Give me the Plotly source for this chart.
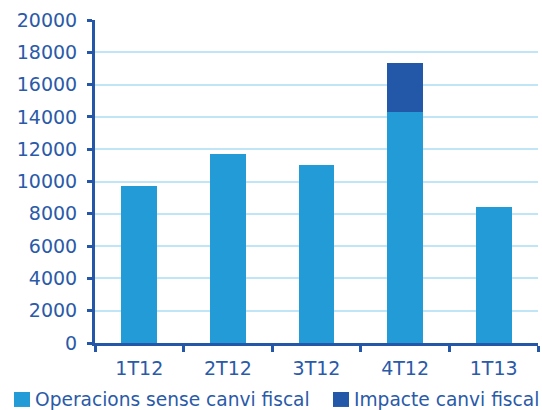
import plotly.graph_objects as go

# ---- data ----
categories = ["1T12", "2T12", "3T12", "4T12", "1T13"]
operacions_sense_canvi = [9750, 11700, 11050, 14300, 8400]
impacte_canvi_fiscal = [0, 0, 0, 3050, 0]
series_names = ["Operacions sense canvi fiscal", "Impacte canvi fiscal"]
y_ticks = [0, 2000, 4000, 6000, 8000, 10000, 12000, 14000, 16000, 18000, 20000]

# ---- styles ----
LIGHT = "#229bd6"
DARK = "#2358a8"
AXIS = "#2457a7"
TEXT = "#2a5aa8"
GRID = "#bfe5f7"
FONT = "DejaVu Sans"

fig = go.Figure()
fig.add_trace(go.Bar(x=categories, y=operacions_sense_canvi, name=series_names[0],
                     marker=dict(color=LIGHT, line=dict(width=0))))
fig.add_trace(go.Bar(x=categories, y=impacte_canvi_fiscal, name=series_names[1],
                     marker=dict(color=DARK, line=dict(width=0))))

fig.update_layout(
    barmode="stack",
    bargap=0.594,
    width=542, height=410,
    margin=dict(l=95, r=4, t=20, b=67),
    paper_bgcolor="white", plot_bgcolor="white",
    showlegend=False,
    font=dict(family=FONT, size=19, color=TEXT),
)
fig.update_yaxes(
    range=[0, 20000], tickvals=y_ticks, ticktext=[str(v) for v in y_ticks],
    showgrid=True, gridcolor=GRID, gridwidth=2, zeroline=False,
    showline=True, linecolor=AXIS, linewidth=3,
    ticks="outside", ticklen=5, tickwidth=3, tickcolor=AXIS,
    ticklabelstandoff=6,
    tickfont=dict(family=FONT, size=19, color=TEXT),
)
fig.update_xaxes(
    type="category", tickson="boundaries",
    showline=True, linecolor=AXIS, linewidth=3,
    ticks="outside", ticklen=6, tickwidth=3, tickcolor=AXIS,
    ticklabelstandoff=6,
    showgrid=False,
    tickfont=dict(family=FONT, size=19, color=TEXT),
)

# ---- custom legend (square + text), placed below the axis ----
legend_items = [
    (series_names[0], LIGHT, -0.1828, -0.1467, -0.140),
    (series_names[1], DARK, 0.5372, 0.5734, 0.580),
]
for name, col, sx0, sx1, tx in legend_items:
    fig.add_shape(type="rect", xref="paper", yref="paper",
                  x0=sx0, x1=sx1, y0=-0.198, y1=-0.1517,
                  fillcolor=col, line=dict(width=0))
    fig.add_annotation(text=name, xref="paper", yref="paper",
                       x=tx, y=-0.175, xanchor="left", yanchor="middle",
                       showarrow=False,
                       font=dict(family=FONT, size=18.6, color=TEXT))

fig.write_html("out.html")
